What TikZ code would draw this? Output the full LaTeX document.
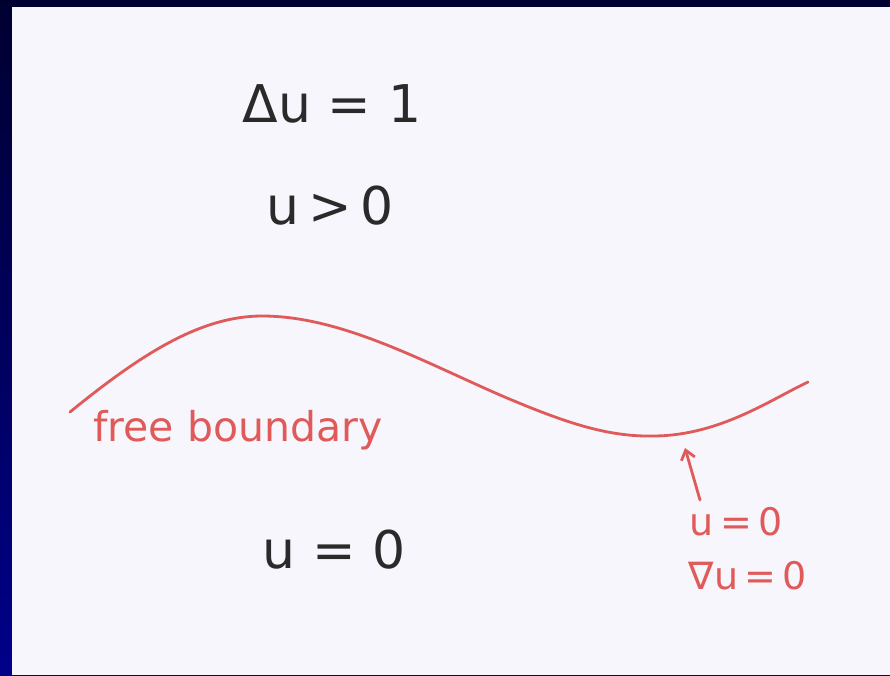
\documentclass[tikz,border=0pt]{standalone}
\usepackage{fontspec}
\usetikzlibrary{arrows.meta}
\setmainfont{DejaVu Sans}
\definecolor{navytop}{HTML}{000030}
\definecolor{navybot}{HTML}{00008A}
\definecolor{paper}{HTML}{F6F6FC}
\definecolor{ink}{HTML}{2A2A2A}
\definecolor{redink}{HTML}{E05A5A}
\begin{document}
\begin{tikzpicture}[x=1pt,y=-1pt,
  blacktext/.style={text=ink,font=\fontsize{52}{56}\selectfont,inner sep=0pt},
  redtext/.style={text=redink,font=\fontsize{41}{46}\selectfont,inner sep=0pt},
  redsmall/.style={text=redink,font=\fontsize{38}{42}\selectfont,inner sep=0pt},
  curve/.style={draw=redink,line width=2.8pt,line cap=round,line join=round}]
\useasboundingbox (0,0) rectangle (890,675);
\shade[top color=navytop,bottom color=navybot] (0,0) rectangle (890,675);
\fill[paper] (12,7) rectangle (890,675);
% equations
\node[blacktext] (eq1) at (332,104) {Δu = 1};
\node[blacktext] (eq2) at (330,206) {u\,>\,0};
\node[blacktext] (eq3) at (334,550) {u = 0};
% free boundary curve
\draw[curve] (70,412) .. controls (140,355) and (200,316) .. (262,316)
  .. controls (340,316) and (420,360) .. (500,395)
  .. controls (570,425) and (610,437) .. (655,436)
  .. controls (720,435) and (770,400) .. (808,382);
\coordinate (tip) at (685,448);
\node[redtext,anchor=west] (fb) at (93,430) {free boundary};
\node[redsmall] (c1) at (736,522) {u\,=\,0};
\node[redsmall] (c2) at (748,576) {∇u\,=\,0};
\draw[curve,->,>={Straight Barb[length=9pt,width=14pt]}] (700,500) -- (tip);
\end{tikzpicture}
\end{document}
